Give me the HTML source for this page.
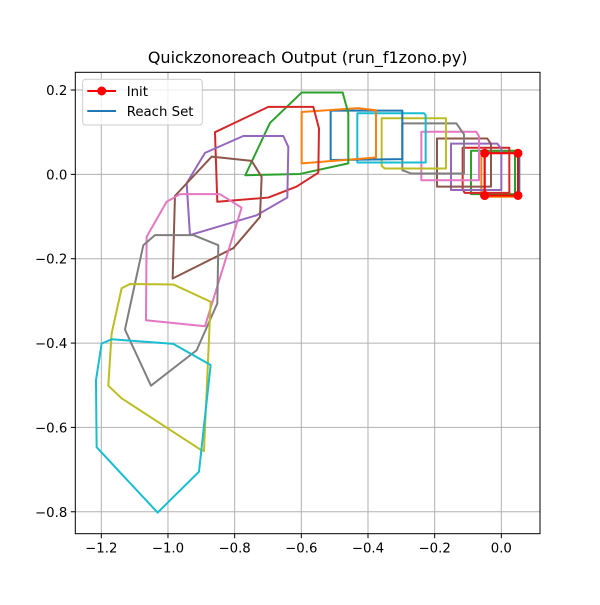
<!DOCTYPE html>
<html><head><meta charset="utf-8"><style>
body{margin:0;background:#fff;width:600px;height:600px;overflow:hidden}
text{font-family:"DejaVu Sans","Liberation Sans",sans-serif}
</style></head><body>
<svg id="chart" width="600" height="600" xmlns="http://www.w3.org/2000/svg"></svg>
<script>
const xTicks=[-1.2,-1.0,-0.8,-0.6,-0.4,-0.2,0.0];
const yTicks=[0.2,0.0,-0.2,-0.4,-0.6,-0.8];
const colors=["#1f77b4","#ff7f0e","#2ca02c","#d62728","#9467bd","#8c564b","#e377c2","#7f7f7f","#bcbd22","#17becf"];
const initPts=[[-0.05,-0.05],[0.05,-0.05],[0.05,0.05],[-0.05,0.05],[-0.05,-0.05]];
const reach0=[[-0.05,-0.052],[0.054,-0.052],[0.054,0.052],[-0.05,0.052]];
const reach1=[[-0.06,-0.053],[0.05,-0.053],[0.05,0.055],[-0.06,0.055]];
const reach2=[[-0.091,-0.047],[0.041,-0.047],[0.041,0.056],[-0.091,0.056]];
const reach3=[[-0.11,-0.044],[0.024,-0.044],[0.024,0.063],[-0.116,0.063],[-0.116,-0.035]];
const reach4=[[-0.151,-0.037],[0.0,-0.037],[0.0,0.06],[-0.012,0.073],[-0.151,0.073]];
const reach5=[[-0.193,-0.029],[-0.031,-0.029],[-0.031,0.072],[-0.042,0.085],[-0.193,0.085]];
const reach6=[[-0.24,-0.014],[-0.067,-0.014],[-0.067,0.09],[-0.075,0.101],[-0.24,0.101]];
const reach7=[[-0.297,0.01],[-0.27,0.002],[-0.112,0.002],[-0.112,0.095],[-0.135,0.121],[-0.297,0.121]];
const reach8=[[-0.359,0.02],[-0.35,0.014],[-0.166,0.014],[-0.166,0.133],[-0.359,0.133]];
const reach9=[[-0.432,0.028],[-0.227,0.028],[-0.227,0.14],[-0.232,0.145],[-0.432,0.145]];
const reach10=[[-0.512,0.034],[-0.297,0.036],[-0.297,0.151],[-0.512,0.151]];
const reach11=[[-0.599,0.026],[-0.376,0.04],[-0.376,0.152],[-0.43,0.157],[-0.599,0.148]];
const reach12=[[-0.768,-0.002],[-0.694,0.122],[-0.599,0.194],[-0.476,0.194],[-0.459,0.145],[-0.459,0.026],[-0.604,0.001]];
const reach13=[[-0.859,0.1],[-0.699,0.16],[-0.564,0.16],[-0.547,0.109],[-0.549,0.004],[-0.614,-0.029],[-0.699,-0.055],[-0.852,-0.065]];
const reach14=[[-0.889,0.051],[-0.774,0.091],[-0.654,0.091],[-0.639,0.065],[-0.642,-0.055],[-0.734,-0.097],[-0.934,-0.144],[-0.944,-0.021]];
const reach15=[[-0.979,-0.051],[-0.869,0.042],[-0.749,0.032],[-0.719,-0.006],[-0.724,-0.101],[-0.804,-0.175],[-0.986,-0.247]];
const reach16=[[-1.064,-0.148],[-1.004,-0.065],[-0.964,-0.047],[-0.844,-0.047],[-0.779,-0.079],[-0.889,-0.36],[-1.066,-0.346]];
const reach17=[[-1.129,-0.368],[-1.074,-0.168],[-1.039,-0.144],[-0.924,-0.144],[-0.849,-0.168],[-0.852,-0.306],[-0.914,-0.417],[-1.051,-0.501]];
const reach18=[[-1.179,-0.501],[-1.169,-0.377],[-1.139,-0.27],[-1.114,-0.26],[-0.984,-0.261],[-0.872,-0.302],[-0.892,-0.656],[-0.904,-0.652],[-1.139,-0.531]];
const reach19=[[-1.214,-0.647],[-1.216,-0.488],[-1.199,-0.401],[-1.169,-0.391],[-0.984,-0.402],[-0.872,-0.452],[-0.907,-0.705],[-1.031,-0.802]];
const reachSets=[reach0,reach1,reach2,reach3,reach4,reach5,reach6,reach7,reach8,reach9,reach10,reach11,reach12,reach13,reach14,reach15,reach16,reach17,reach18,reach19];

const L=75.3,R=540,T=72.3,B=533.7;
const x0=-1.278,x1=0.116,y0=-0.852,y1=0.242;
const sx=v=>L+(v-x0)/(x1-x0)*(R-L);
const sy=v=>B-(v-y0)/(y1-y0)*(B-T);
const svg=document.getElementById('chart');
const NS="http://www.w3.org/2000/svg";
function mk(tag,attrs,parent){const e=document.createElementNS(NS,tag);for(const k in attrs)e.setAttribute(k,attrs[k]);(parent||svg).appendChild(e);return e;}

const title=mk('text',{x:(L+R)/2,y:63,'text-anchor':'middle','font-size':'16'});


title.textContent='Quickzonoreach Output (run_f1zono.py)';

const grid=mk('g',{});


xTicks.forEach(v=>{
  const gl=mk('line',{x1:sx(v),x2:sx(v),y1:T,y2:B,stroke:'#b0b0b0','stroke-width':1},grid);
  
  
  const tk=mk('line',{x1:sx(v),x2:sx(v),y1:B,y2:B+4.5,stroke:'#000','stroke-width':1});
  
  
  const t=mk('text',{x:sx(v),y:B+19,'text-anchor':'middle','font-size':'13.3'});
  
  
  t.textContent=v.toFixed(1).replace('-','\u2212');
});
yTicks.forEach(v=>{
  const gl=mk('line',{x1:L,x2:R,y1:sy(v),y2:sy(v),stroke:'#b0b0b0','stroke-width':1},grid);
  
  
  const tk=mk('line',{x1:L-4.5,x2:L,y1:sy(v),y2:sy(v),stroke:'#000','stroke-width':1});
  
  
  const t=mk('text',{x:L-8,y:sy(v)+5,'text-anchor':'end','font-size':'13.3'});
  
  
  t.textContent=v.toFixed(1).replace('-','\u2212');
});

const series=mk('g',{});


reachSets.forEach((poly,i)=>{
  const p=mk('polygon',{points:poly.map(q=>sx(q[0])+','+sy(q[1])).join(' '),fill:'none',stroke:colors[i%10],'stroke-width':2,'stroke-linejoin':'round'},series);
  
  
});
const initLine=mk('polyline',{points:initPts.map(q=>sx(q[0])+','+sy(q[1])).join(' '),fill:'none',stroke:'#ff0000','stroke-width':2});


initPts.forEach(q=>{
  const c=mk('circle',{cx:sx(q[0]),cy:sy(q[1]),r:4.5,fill:'#ff0000'});
  
  
});

const frame=mk('rect',{x:L,y:T,width:R-L,height:B-T,fill:'none',stroke:'#000','stroke-width':1});



const lg=mk('g',{});


mk('rect',{x:82.7,y:79.3,width:119.6,height:45.7,rx:3,fill:'#fff','fill-opacity':0.8,stroke:'#ccc','stroke-width':1},lg);
const l1=mk('line',{x1:87.3,x2:116,y1:91,y2:91,stroke:'#ff0000','stroke-width':2},lg);


mk('circle',{cx:101.7,cy:91,r:4.5,fill:'#ff0000'},lg);
const t1=mk('text',{x:126.7,y:96,'font-size':'13.3'},lg);


t1.textContent='Init';
const l2=mk('line',{x1:87.3,x2:116,y1:111,y2:111,stroke:'#1f77b4','stroke-width':2},lg);


const t2=mk('text',{x:126.7,y:116,'font-size':'13.3'},lg);


t2.textContent='Reach Set';
</script>
</body></html>
